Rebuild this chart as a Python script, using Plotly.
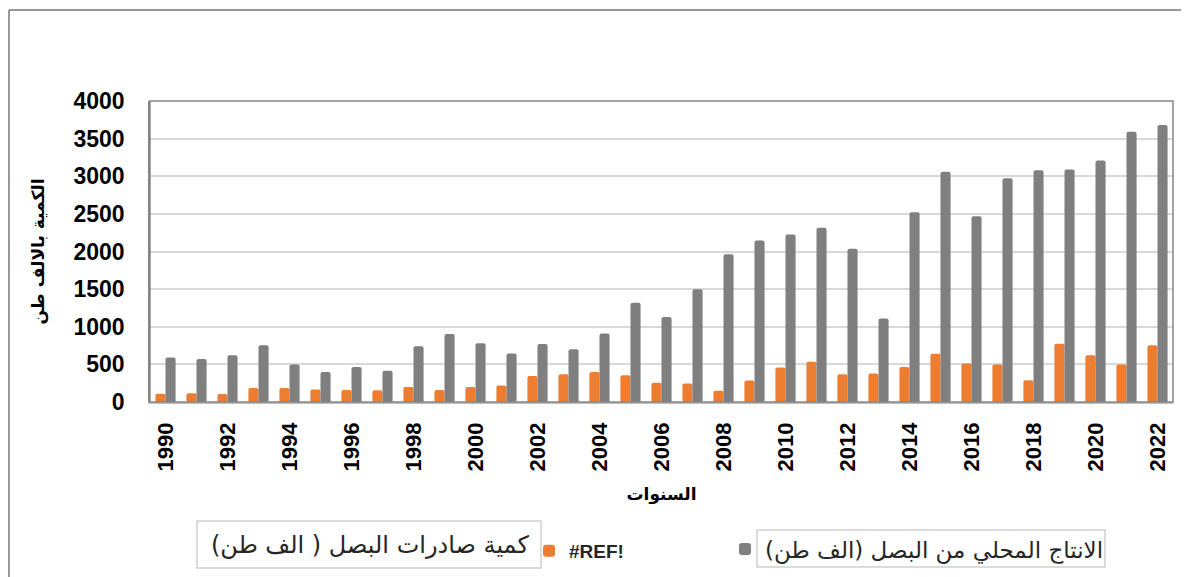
import plotly.graph_objects as go

# ---- data ----
years = [1990, 1991, 1992, 1993, 1994, 1995, 1996, 1997, 1998, 1999, 2000,
         2001, 2002, 2003, 2004, 2005, 2006, 2007, 2008, 2009, 2010, 2011,
         2012, 2013, 2014, 2015, 2016, 2017, 2018, 2019, 2020, 2021, 2022]
exports = [110, 115, 105, 185, 185, 165, 160, 155, 200, 160, 200,
           220, 345, 370, 400, 355, 255, 245, 150, 285, 460, 535,
           370, 380, 465, 640, 510, 500, 290, 775, 620, 500, 755]
production = [590, 570, 620, 755, 500, 400, 465, 415, 740, 905, 780,
              645, 770, 700, 910, 1320, 1130, 1500, 1965, 2145, 2225, 2315,
              2035, 1110, 2520, 3060, 2470, 2975, 3080, 3090, 3210, 3590, 3680]
tick_years = [1990, 1992, 1994, 1996, 1998, 2000, 2002, 2004, 2006, 2008, 2010,
              2012, 2014, 2016, 2018, 2020, 2022]
y_ticks = [0, 500, 1000, 1500, 2000, 2500, 3000, 3500, 4000]

export_name = "<b>#REF!</b>"
production_name = "الانتاج المحلي من البصل (الف طن)"
export_box_text = "كمية صادرات البصل ( الف طن)"
x_title = "السنوات"
y_title = "الكمية بالالف طن"

# ---- layout geometry (target page coords; page body adds an 8px offset) ----
W, H = 1189, 577
OFF = 8
PL, PR, PT, PB = 150, 1173, 101, 402          # plot area on the page
L, R, T, B = PL - OFF, W - (PR - OFF), PT - OFF, H - (PB - OFF)
PW, PH = W - L - R, H - T - B


def px(x):
    return (x - OFF - L) / PW


def py(y):
    return (H - B - (y - OFF)) / PH


ORANGE = "#ED7D31"
GRAY = "#7F7F7F"
AR_FONT = "DejaVu Sans"
TXT = "#262626"

fig = go.Figure()
fig.add_trace(go.Bar(x=years, y=exports, name=export_name, legend="legend",
                     marker=dict(color=ORANGE, line=dict(width=0))))
fig.add_trace(go.Bar(x=years, y=production, name=production_name, legend="legend2",
                     marker=dict(color=GRAY, line=dict(width=0))))

fig.update_layout(
    width=W, height=H,
    margin=dict(l=L, r=R, t=T, b=B, pad=0),
    paper_bgcolor="white", plot_bgcolor="white",
    barmode="group", bargap=0.35, bargroupgap=0, barcornerradius=2,
    font=dict(family="Liberation Sans", color="black"),
    showlegend=True,
    legend=dict(orientation="h", x=px(529), y=py(551), yanchor="middle",
                xanchor="left",
                font=dict(family="Liberation Sans", size=19, color=TXT),
                bgcolor="rgba(0,0,0,0)"),
    legend2=dict(orientation="h", x=px(725), y=py(549), yanchor="middle",
                 xanchor="left",
                 font=dict(family=AR_FONT, size=23, color=TXT),
                 bgcolor="rgba(0,0,0,0)"),
)

fig.update_xaxes(range=[1989.5, 2022.5], tickmode="array", tickvals=tick_years,
                 ticktext=[str(v) for v in tick_years], tickangle=-90,
                 tickfont=dict(family="Liberation Sans", size=22, color="black",
                               weight="bold"),
                 ticklabelstandoff=10,
                 showgrid=False, showline=True, linecolor="#BFBFBF", linewidth=1.5,
                 ticks="", zeroline=False,
                 title=dict(text="<b>" + x_title + "</b>", standoff=18,
                            font=dict(family=AR_FONT, size=17, color="black")))
fig.update_yaxes(range=[0, 4000], tickmode="array", tickvals=y_ticks,
                 ticktext=[str(v) for v in y_ticks],
                 tickfont=dict(family="Liberation Sans", size=23, color="black",
                               weight="bold"),
                 showgrid=True, gridcolor="#D9D9D9", gridwidth=1.5,
                 showline=True, linecolor="#868686", linewidth=1.5,
                 ticks="", zeroline=False, ticklabelstandoff=19,
                 title=dict(text="<b>" + y_title + "</b>", standoff=25,
                            font=dict(family=AR_FONT, size=17, color="black")))

shapes = [
    # plot area border
    dict(type="rect", xref="paper", yref="paper", x0=0, x1=1, y0=0, y1=1,
         line=dict(color="#868686", width=1.5), layer="above"),
    # outer chart frame (left and top edges)
    dict(type="line", xref="paper", yref="paper", x0=px(9), x1=px(9), y0=py(10), y1=py(590),
         line=dict(color="#767676", width=1.5)),
    dict(type="line", xref="paper", yref="paper", x0=px(9), x1=px(1200), y0=py(10), y1=py(10),
         line=dict(color="#767676", width=1.5)),
    # box around export label text
    dict(type="rect", xref="paper", yref="paper", x0=px(197), x1=px(541), y0=py(521), y1=py(568),
         line=dict(color="#D0D0D0", width=1.5)),
    # box around production legend text
    dict(type="rect", xref="paper", yref="paper", x0=px(757), x1=px(1105), y0=py(530), y1=py(567),
         line=dict(color="#D0D0D0", width=1.5)),
]
fig.update_layout(shapes=shapes)

fig.add_annotation(xref="paper", yref="paper", x=px(370), y=py(545),
                   text=export_box_text, showarrow=False,
                   font=dict(family=AR_FONT, size=24, color=TXT),
                   xanchor="center", yanchor="middle")

fig.write_html("out.html")
